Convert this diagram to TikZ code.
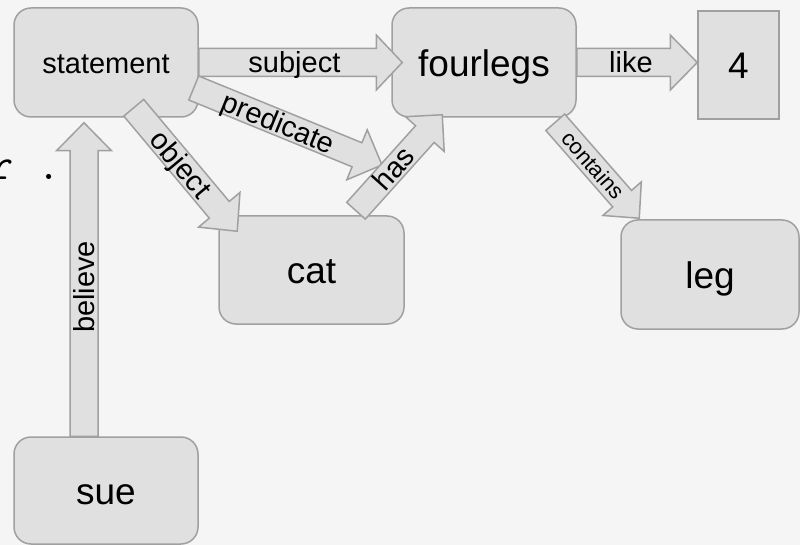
\documentclass[tikz,border=0pt]{standalone}
\usepackage{fontspec}
\setmainfont{Liberation Sans}
\usetikzlibrary{calc}
\definecolor{bgc}{HTML}{F5F5F5}
\definecolor{boxfill}{HTML}{E0E0E0}
\definecolor{boxline}{HTML}{A0A0A0}
% #1 start, #2 tip, #3 half shaft width, #4 half head width, #5 head length
\newcommand\blockarr[5]{%
  \coordinate (bac) at ($(#2)!#5!(#1)$);
  \draw[arrowbody] ($(#1)!#3!90:(#2)$) -- ($(bac)!#3!-90:(#1)$) -- ($(bac)!#4!-90:(#1)$) -- (#2) -- ($(bac)!#4!90:(#1)$) -- ($(bac)!#3!90:(#1)$) -- ($(#1)!#3!-90:(#2)$) -- cycle;}
\begin{document}
\begin{tikzpicture}[x=1pt,y=-1pt,
  box/.style={draw=boxline, fill=boxfill, line width=1.5pt, rounded corners=17pt, inner sep=0pt,
    text height=35pt, text depth=7.4pt, font=\fontsize{37}{44}\selectfont},
  sqbox/.style={box, rounded corners=0pt},
  arrowbody/.style={draw=boxline, fill=boxfill, line width=1.5pt, line join=miter},
  elabel/.style={inner sep=0pt, text height=26pt, text depth=6pt, font=\fontsize{29}{34}\selectfont, sloped},
  slabel/.style={inner sep=0pt, text height=19.5pt, text depth=4.5pt, font=\fontsize{22}{26}\selectfont, sloped},
]
\fill[bgc] (0,0) rectangle (800,545);
\useasboundingbox (0,0) rectangle (800,545);

\node[anchor=base west, inner sep=0pt, font=\ttfamily\fontsize{45}{52}\selectfont] (frag) at (-9.5,180) {r~.};

\node[box, font=\fontsize{29}{34}\selectfont, text height=27.5pt, text depth=5.8pt,
  minimum width=184pt, minimum height=109pt] (statement) at (106,62.5) {statement};
\node[box, minimum width=184pt, minimum height=109pt] (fourlegs) at (484,62.5) {fourlegs};
\node[sqbox, minimum width=81pt, minimum height=108pt] (four) at (738.5,65) {4};
\node[box, minimum width=185pt, minimum height=108pt] (cat) at (311.5,270) {cat};
\node[box, minimum width=178pt, minimum height=109pt] (leg) at (710,274.5) {leg};
\node[box, minimum width=184pt, minimum height=107pt] (sue) at (106,490.5) {sue};

% subject
\coordinate (subjA) at (statement.east);
\coordinate (subjB) at ($(fourlegs.west)+(11,0)$);
\blockarr{subjA}{subjB}{14pt}{27.5pt}{26pt}
\path (subjA) -- (subjB) node[elabel, pos=0.47] (lsubject) {subject};

% like
\coordinate (likeA) at (fourlegs.east);
\coordinate (likeB) at (fourlegs.east -| four.west);
\blockarr{likeA}{likeB}{14pt}{27.5pt}{27pt}
\path (likeA) -- (likeB) node[elabel, pos=0.45] (llike) {like};

% believe
\coordinate (belA) at ($(sue.north)+(-22,0)$);
\coordinate (belB) at ($(statement.south)+(-22,5)$);
\blockarr{belA}{belB}{14pt}{27.5pt}{28pt}
\path (belA) -- (belB) node[elabel, pos=0.476] (lbelieve) {believe};

% object
\coordinate (objA) at ($(statement.south east)+(-65,-10)$);
\coordinate (objB) at ($(cat.north west)+(19,16)$);
\blockarr{objA}{objB}{13pt}{27pt}{28pt}
\path (objA) -- (objB) node[elabel, pos=0.457] (lobject) {object};

% predicate
\coordinate (predA) at ($(statement.east)+(-5,25.5)$);
\coordinate (predB) at (382,165);
\blockarr{predA}{predB}{13pt}{27pt}{27pt}
\path (predA) -- (predB) node[elabel, pos=0.45] (lpredicate) {predicate};

% has
\coordinate (hasA) at ($(cat.north)+(44.5,-4.5)$);
\coordinate (hasB) at ($(fourlegs.south west)+(51,-3)$);
\blockarr{hasA}{hasB}{12.5pt}{26pt}{26pt}
\path (hasA) -- (hasB) node[elabel, pos=0.436] (lhas) {has};

% contains
\coordinate (conA) at ($(fourlegs.south east)+(-21.5,4.5)$);
\coordinate (conB) at ($(leg.north west)+(19,-1)$);
\blockarr{conA}{conB}{12.5pt}{25.5pt}{26pt}
\path (conA) -- (conB) node[slabel, pos=0.45] (lcontains) {contains};
\end{tikzpicture}
\end{document}
